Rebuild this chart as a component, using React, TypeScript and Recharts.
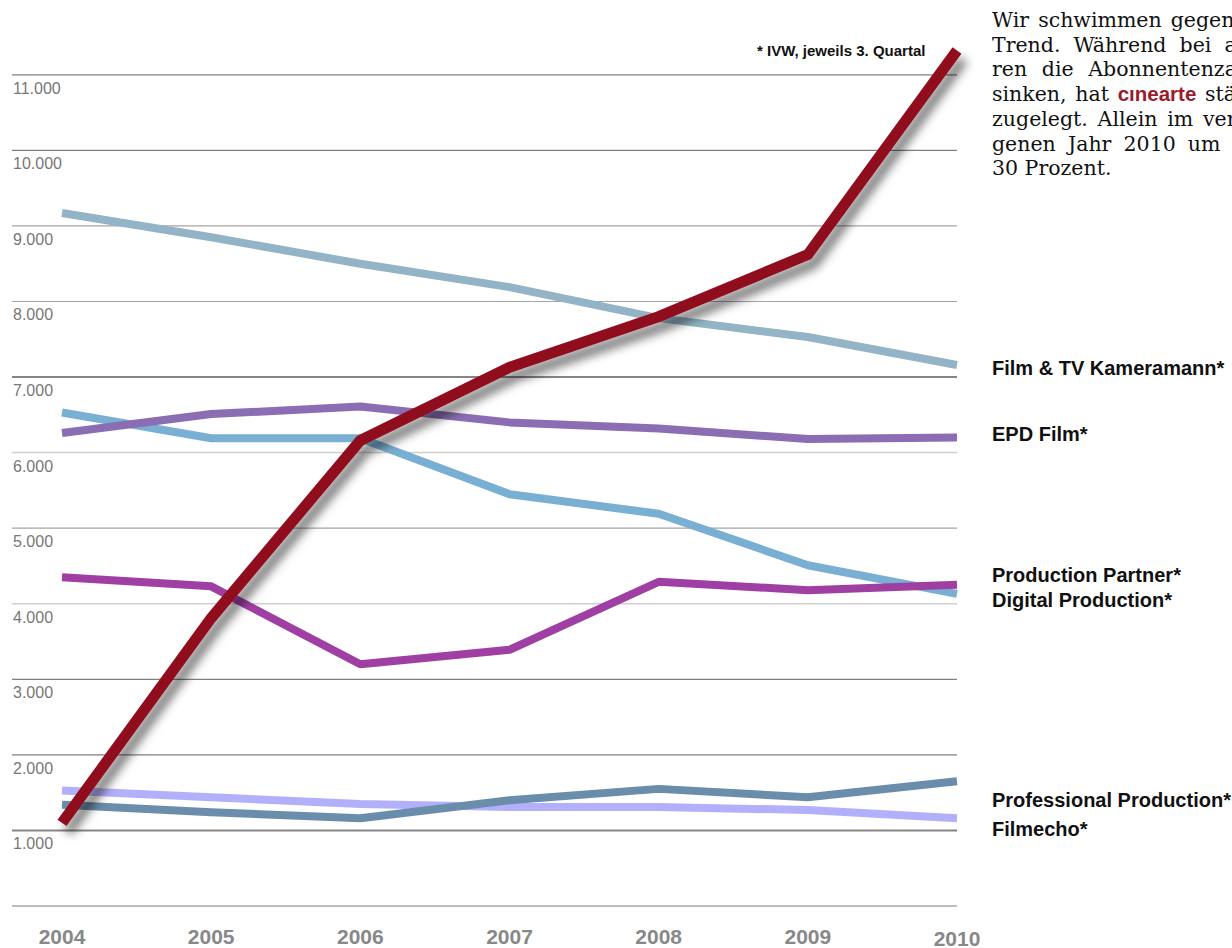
import { LineChart, Line, XAxis, YAxis, ReferenceLine } from "recharts";

const years = ["2004", "2005", "2006", "2007", "2008", "2009", "2010"];

const cinearte = [1100, 3810, 6160, 7130, 7800, 8620, 11320];
const filmTv = [9170, 8850, 8500, 8190, 7780, 7530, 7160];
const epdFilm = [6260, 6510, 6610, 6400, 6320, 6180, 6200];
const productionPartner = [6530, 6190, 6190, 5450, 5190, 4510, 4130];
const digitalProduction = [4350, 4230, 3200, 3390, 4290, 4180, 4250];
const professionalProduction = [1340, 1240, 1160, 1400, 1550, 1440, 1650];
const filmecho = [1530, 1440, 1350, 1310, 1310, 1270, 1160];

const yTicks = [1000, 2000, 3000, 4000, 5000, 6000, 7000, 8000, 9000, 10000, 11000];
const gridValues = [0, ...yTicks];

const seriesLabels = [
  "Film & TV Kameramann*",
  "EPD Film*",
  "Production Partner*",
  "Digital Production*",
  "Professional Production*",
  "Filmecho*",
];

const textLines = [
  "Wir schwimmen gegen den",
  "Trend. Während bei ande-",
  "ren die Abonnentenzahlen",
  "sinken, hat |cınearte| ständig",
  "zugelegt. Allein im vergan-",
  "genen Jahr 2010 um rund",
  "30 Prozent.",
];

const data = years.map((year, i) => ({
  year,
  cinearte: cinearte[i],
  filmTv: filmTv[i],
  epdFilm: epdFilm[i],
  productionPartner: productionPartner[i],
  digitalProduction: digitalProduction[i],
  professionalProduction: professionalProduction[i],
  filmecho: filmecho[i],
}));

const gridStyle = (v: number) => {
  if (v === 7000 || v === 1000) return { stroke: "#858585", strokeWidth: 2 };
  if (v === 6000 || v === 4000) return { stroke: "#cfcfcf", strokeWidth: 1.5 };
  if (v === 8000 || v === 9000 || v === 5000) return { stroke: "#a5a5a5", strokeWidth: 1.2 };
  return { stroke: "#7f7f7f", strokeWidth: 1.2 };
};

const labelTops = [357, 423, 564, 589, 789, 818];

const sans = "'Liberation Sans', Arial, sans-serif";

export default function App() {
  return (
    <div style={{ position: "absolute", left: 0, top: 0, width: 1232, height: 948, overflow: "hidden", background: "#fff" }}>
      <LineChart
        width={1232}
        height={948}
        data={data}
        margin={{ top: 37, right: 275, left: 0, bottom: 12 }}
      >
        <defs>
          <filter id="redShadow" x="-20%" y="-20%" width="140%" height="140%">
            <feDropShadow dx="6" dy="9" stdDeviation="5" floodColor="#000" floodOpacity="0.5" />
          </filter>
        </defs>
        <XAxis
          dataKey="year"
          height={30}
          padding={{ left: 50, right: 0 }}
          axisLine={false}
          tickLine={false}
          interval={0}
          tick={({ x, y, payload, index }: any) => (
            <text
              x={x}
              y={y + 30 + (index === 6 ? 2 : 0)}
              textAnchor="middle"
              fill="#888"
              fontFamily={sans}
              fontWeight="bold"
              fontSize={21}
            >
              {payload.value}
            </text>
          )}
        />
        <YAxis
          type="number"
          domain={[0, 11500]}
          ticks={yTicks}
          width={12}
          axisLine={false}
          tickLine={false}
          interval={0}
          tick={({ y, payload }: any) => (
            <text x={13} y={y + 19} fill="#777" fontFamily={sans} fontSize={16}>
              {payload.value.toLocaleString("de-DE")}
            </text>
          )}
        />
        {gridValues.map((v) => (
          <ReferenceLine key={v} y={v} {...gridStyle(v)} ifOverflow="visible" />
        ))}
        <Line dataKey="productionPartner" stroke="#78afd3" strokeWidth={8} dot={false} isAnimationActive={false} strokeLinejoin="round" />
        <Line dataKey="digitalProduction" stroke="#a03fa3" strokeWidth={8} dot={false} isAnimationActive={false} strokeLinejoin="round" />
        <Line dataKey="epdFilm" stroke="#8a6db3" strokeWidth={8} dot={false} isAnimationActive={false} strokeLinejoin="round" />
        <Line dataKey="filmTv" stroke="#93b4c6" strokeWidth={8} dot={false} isAnimationActive={false} strokeLinejoin="round" />
        <Line dataKey="filmecho" stroke="#b2b0fb" strokeWidth={8} dot={false} isAnimationActive={false} strokeLinejoin="round" />
        <Line dataKey="professionalProduction" stroke="#6a8dab" strokeWidth={8} dot={false} isAnimationActive={false} strokeLinejoin="round" />
        <Line
          dataKey="cinearte"
          stroke="#8f101f"
          strokeWidth={11}
          dot={false}
          isAnimationActive={false}
          filter="url(#redShadow)"
        />
      </LineChart>

      <div style={{ position: "absolute", left: 757, top: 42, fontFamily: sans, fontWeight: "bold", fontSize: 15, color: "#111" }}>
        * IVW, jeweils 3. Quartal
      </div>

      {seriesLabels.map((label, i) => (
        <div
          key={label}
          style={{ position: "absolute", left: 992, top: labelTops[i], fontFamily: sans, fontWeight: "bold", fontSize: 20, color: "#111", whiteSpace: "nowrap" }}
        >
          {label}
        </div>
      ))}

      <div style={{ position: "absolute", left: 992, top: 8, width: 240, overflow: "hidden" }}>
        <div style={{ width: 290, fontFamily: "'DejaVu Serif', serif", fontSize: 20.5, lineHeight: "24.7px", color: "#111" }}>
          {textLines.map((line, i) => (
            <div
              key={i}
              style={{ textAlign: "justify", textAlignLast: i === textLines.length - 1 ? "left" : "justify", whiteSpace: "nowrap" }}
            >
              {line.split("|").map((part, j) =>
                j % 2 === 1 ? (
                  <span key={j} style={{ fontFamily: sans, fontWeight: "bold", color: "#9b1b2a" }}>{part}</span>
                ) : (
                  <span key={j}>{part}</span>
                )
              )}
            </div>
          ))}
        </div>
      </div>
    </div>
  );
}
